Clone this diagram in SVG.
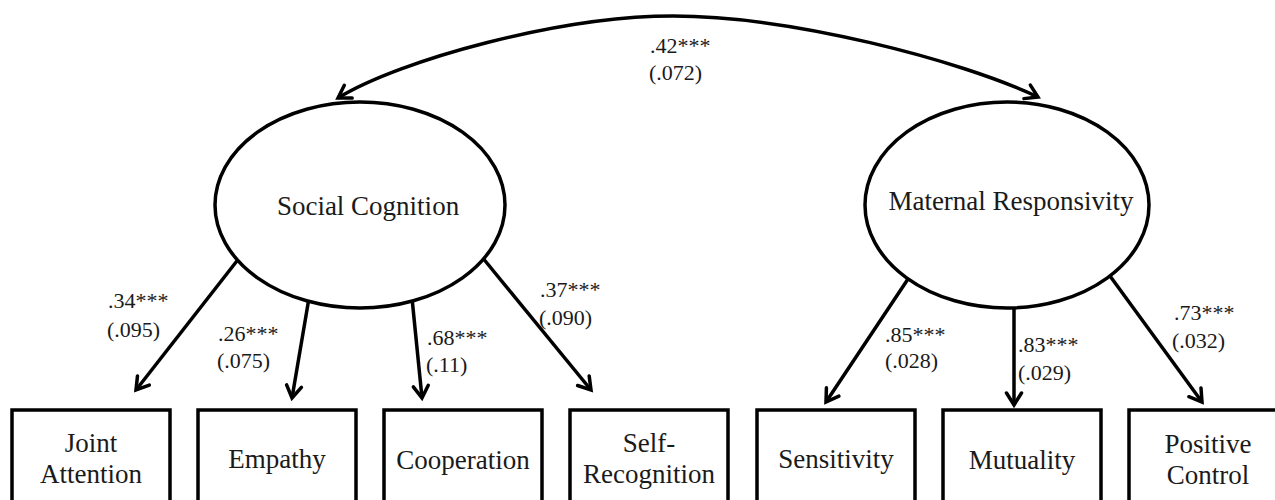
<svg xmlns="http://www.w3.org/2000/svg" width="1275" height="500" viewBox="0 0 1275 500">
  <style>
    .ln { fill: none; stroke: #000; stroke-width: 3.5; }
    .ell { fill: #fff; stroke: #000; stroke-width: 3.5; }
    .box { fill: #fff; stroke: #000; stroke-width: 3.5; }
    text { fill: #1a1a1a; }
    .big { font-size: 27px; text-anchor: middle; }
    .lab { font-size: 22px; }
  </style>
  <defs>
    <marker id="ah" markerUnits="userSpaceOnUse" viewBox="-16 -10 20 20" refX="0" refY="0" markerWidth="20" markerHeight="20" orient="auto-start-reverse">
      <path d="M-12,-7.5 L0,0 L-12,7.5" fill="none" stroke="#000" stroke-width="3.5" stroke-linejoin="miter" stroke-linecap="round"/>
    </marker>
  </defs>
  <rect width="1275" height="500" fill="#fff"/>

  <g id="connectors">
    <path class="ln" d="M338,98 C400,60 560,16 673,16 C790,16 960,60 1038,97" marker-start="url(#ah)" marker-end="url(#ah)"/>
    <line class="ln" x1="240" y1="257" x2="136" y2="390" marker-end="url(#ah)"/>
    <line class="ln" x1="309" y1="298" x2="292" y2="398" marker-end="url(#ah)"/>
    <line class="ln" x1="412" y1="298" x2="422" y2="398" marker-end="url(#ah)"/>
    <line class="ln" x1="482" y1="257" x2="591" y2="390" marker-end="url(#ah)"/>
    <line class="ln" x1="910" y1="276" x2="826" y2="402" marker-end="url(#ah)"/>
    <line class="ln" x1="1014" y1="305" x2="1014" y2="405" marker-end="url(#ah)"/>
    <line class="ln" x1="1110" y1="276" x2="1202" y2="402" marker-end="url(#ah)"/>
  </g>

  <g id="labels" font-family="'Liberation Serif', 'DejaVu Serif', serif">
    <text class="lab" x="650" y="53">.42***</text>
    <text class="lab" x="649" y="80">(.072)</text>
    <text class="lab" x="108" y="308">.34***</text>
    <text class="lab" x="107" y="337">(.095)</text>
    <text class="lab" x="218" y="341">.26***</text>
    <text class="lab" x="217" y="368">(.075)</text>
    <text class="lab" x="427" y="345">.68***</text>
    <text class="lab" x="426" y="372">(.11)</text>
    <text class="lab" x="540" y="297">.37***</text>
    <text class="lab" x="539" y="325">(.090)</text>
    <text class="lab" x="885" y="342">.85***</text>
    <text class="lab" x="885" y="368">(.028)</text>
    <text class="lab" x="1018" y="352">.83***</text>
    <text class="lab" x="1018" y="380">(.029)</text>
    <text class="lab" x="1174" y="320">.73***</text>
    <text class="lab" x="1172" y="348">(.032)</text>
  </g>

  <g font-family="'Liberation Serif', 'DejaVu Serif', serif">
  <g id="social-cognition">
    <ellipse class="ell" cx="360" cy="205" rx="145" ry="103"/>
    <text class="big" x="368" y="215">Social Cognition</text>
  </g>
  <g id="maternal-responsivity">
    <ellipse class="ell" cx="1007" cy="205" rx="142" ry="103"/>
    <text class="big" x="1011" y="210">Maternal Responsivity</text>
  </g>

  <g id="joint-attention">
    <rect class="box" x="12" y="410" width="158" height="110"/>
    <text class="big" x="91" y="452">Joint</text>
    <text class="big" x="91" y="483">Attention</text>
  </g>
  <g id="empathy">
    <rect class="box" x="198" y="410" width="158" height="110"/>
    <text class="big" x="277" y="468">Empathy</text>
  </g>
  <g id="cooperation">
    <rect class="box" x="384" y="410" width="158" height="110"/>
    <text class="big" x="463" y="469">Cooperation</text>
  </g>
  <g id="self-recognition">
    <rect class="box" x="570" y="410" width="158" height="110"/>
    <text class="big" x="649" y="452">Self-</text>
    <text class="big" x="649" y="483">Recognition</text>
  </g>
  <g id="sensitivity">
    <rect class="box" x="757" y="410" width="158" height="110"/>
    <text class="big" x="836" y="468">Sensitivity</text>
  </g>
  <g id="mutuality">
    <rect class="box" x="943" y="410" width="158" height="110"/>
    <text class="big" x="1022" y="469">Mutuality</text>
  </g>
  <g id="positive-control">
    <rect class="box" x="1129" y="410" width="158" height="110"/>
    <text class="big" x="1208" y="453">Positive</text>
    <text class="big" x="1208" y="484">Control</text>
  </g>
  </g>
</svg>
